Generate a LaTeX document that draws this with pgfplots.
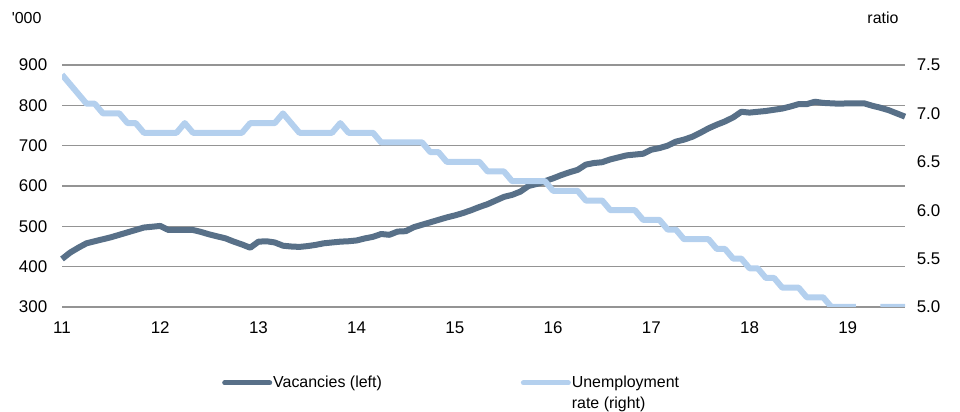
\documentclass[border=0pt]{standalone}
\usepackage{fontspec}
\setmainfont{Liberation Sans}
\usepackage{pgfplots}
\usepackage{pgfplotstable}
\pgfplotsset{compat=1.18}
\definecolor{vac}{RGB}{88,112,136}
\definecolor{unemp}{RGB}{180,208,238}

\pgfplotstableread{
m v
0 419
1 435
2 447
3 458
4 463
5 468
6 473
7 479
8 485
9 491
10 497
11 499
12 501
13 491
14 491
15 491
16 491
17 486
18 480
19 475
20 470
21 462
22 455
23 447
24 462
25 463
26 460
27 452
28 450
29 449
30 451
31 454
32 458
33 460
34 462
35 463
36 465
37 470
38 474
39 481
40 479
41 487
42 488
43 498
44 504
45 510
46 516
47 522
48 527
49 533
50 540
51 548
52 555
53 564
54 573
55 578
56 586
57 600
58 605
59 612
60 619
61 627
62 634
63 640
64 653
65 657
66 659
67 666
68 671
69 676
70 678
71 680
72 690
73 694
74 700
75 710
76 715
77 722
78 732
79 743
80 752
81 760
82 770
83 784
84 782
85 784
86 786
87 789
88 792
89 797
90 803
91 803
92 809
93 806
94 805
95 804
96 805
97 805
98 805
99 799
100 794
101 788
102 780
103 772
}\vacdata

\pgfplotstableread{
m u
0 7.4
1 7.3
2 7.2
3 7.1
4 7.1
5 7.0
6 7.0
7 7.0
8 6.9
9 6.9
10 6.8
11 6.8
12 6.8
13 6.8
14 6.8
15 6.9
16 6.8
17 6.8
18 6.8
19 6.8
20 6.8
21 6.8
22 6.8
23 6.9
24 6.9
25 6.9
26 6.9
27 7.0
28 6.9
29 6.8
30 6.8
31 6.8
32 6.8
33 6.8
34 6.9
35 6.8
36 6.8
37 6.8
38 6.8
39 6.7
40 6.7
41 6.7
42 6.7
43 6.7
44 6.7
45 6.6
46 6.6
47 6.5
48 6.5
49 6.5
50 6.5
51 6.5
52 6.4
53 6.4
54 6.4
55 6.3
56 6.3
57 6.3
58 6.3
59 6.3
60 6.2
61 6.2
62 6.2
63 6.2
64 6.1
65 6.1
66 6.1
67 6.0
68 6.0
69 6.0
70 6.0
71 5.9
72 5.9
73 5.9
74 5.8
75 5.8
76 5.7
77 5.7
78 5.7
79 5.7
80 5.6
81 5.6
82 5.5
83 5.5
84 5.4
85 5.4
86 5.3
87 5.3
88 5.2
89 5.2
90 5.2
91 5.1
92 5.1
93 5.1
94 5.0
95 5.0
96 5.0
97 5.0
98 4.9
99 4.9
100 5.0
101 5.0
102 5.0
103 5.0
}\unempdata

\begin{document}
\begin{tikzpicture}
\useasboundingbox (0,0) rectangle (960bp,412bp);
\begin{axis}[
  at={(62bp,105bp)}, anchor=south west,
  scale only axis, width=843bp, height=242bp,
  xmin=0, xmax=103,
  ymin=300, ymax=900,
  ytick={300,400,...,900},
  xtick={0,12,24,36,48,60,72,84,96},
  xticklabels={11,12,13,14,15,16,17,18,19},
  x axis line style={draw=none},
  y axis line style={draw=none},
  major tick length=0pt,
  tick label style={font=\fontsize{17}{20}\selectfont},
  /pgf/number format/assume math mode=true,
  xticklabel style={yshift=-11bp},
  yticklabel style={xshift=-11.3bp},
  ymajorgrids=true,
  y grid style={draw=black!42, line width=1.6bp},
  clip=false,
]
\addplot[draw=vac, line width=6bp, line join=round] table[x=m, y=v] {\vacdata};
\node[anchor=base east, font=\fontsize{16}{19}\selectfont] at (rel axis cs:0,1) [xshift=-17bp, yshift=42bp] {\textquotesingle000};
\node[anchor=base east, font=\fontsize{16}{19}\selectfont] at (rel axis cs:1,1) [xshift=-3bp, yshift=42bp] {ratio};
\end{axis}
\begin{axis}[
  at={(62bp,105bp)}, anchor=south west,
  scale only axis, width=843bp, height=242bp,
  xmin=0, xmax=103,
  ymin=5, ymax=7.5,
  axis x line=none,
  y axis line style={draw=none},
  major tick length=0pt,
  tick label style={font=\fontsize{17}{20}\selectfont},
  /pgf/number format/assume math mode=true,
  ytick={5,5.5,...,7.5},
  yticklabel pos=right,
  yticklabel style={xshift=8.3bp, /pgf/number format/.cd, fixed, fixed zerofill, precision=1},
  restrict y to domain=4.95:8,
  unbounded coords=jump,
  legend columns=2,
  legend style={draw=none, fill=none, inner sep=0pt, at={(0.1898,-0.273)}, anchor=north west,
    font=\fontsize{16}{21}\selectfont,
    cells={anchor=base west},
    nodes={inner sep=0pt},
    /tikz/every odd column/.append style={column sep=1bp},
    /tikz/every even column/.append style={column sep=139bp}},
  legend image code/.code={\draw[#1, line width=5bp, line cap=round] (1bp,5bp) -- (46bp,5bp);},
]
\addlegendimage{draw=vac}
\addlegendentry{Vacancies (left)}
\addplot[draw=unemp, line width=6bp, line join=round] table[x=m, y=u] {\unempdata};
\addlegendentry{\begin{tabular}[t]{@{}l@{}}Unemployment\\rate (right)\end{tabular}}
\end{axis}
\end{tikzpicture}
\end{document}
